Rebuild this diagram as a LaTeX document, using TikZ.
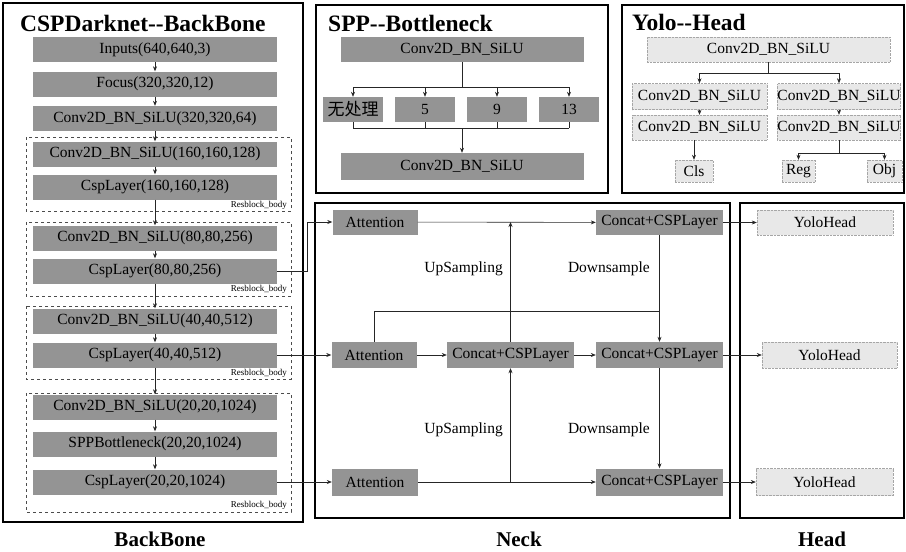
\documentclass[tikz,border=0pt]{standalone}
\usepackage{fontspec}
\setmainfont{Liberation Serif}
\newfontfamily\cjk{Noto Sans CJK SC}
\usetikzlibrary{arrows.meta, positioning}

\begin{document}
\begin{tikzpicture}[
        x=1pt, y=-1pt,
        dnode/.style={rectangle, fill=black!42, inner sep=0pt,
                      minimum height=25pt, font=\fontsize{15.5}{17}\selectfont},
        lnode/.style={rectangle, fill=black!9, draw=black!35, densely dotted,
                      inner sep=0pt, minimum height=25pt,
                      font=\fontsize{15.5}{17}\selectfont},
        panel/.style={draw=black, line width=2.4pt},
        resblock/.style={draw=black!70, dashed, line width=0.7pt},
        ttl/.style={font=\fontsize{23.5}{26}\selectfont\bfseries, inner sep=0pt},
        part/.style={font=\fontsize{21}{24}\selectfont\bfseries, inner sep=0pt},
        lbl/.style={font=\fontsize{15.5}{17}\selectfont, inner sep=0pt},
        rblabel/.style={font=\fontsize{9}{10}\selectfont, inner sep=0pt},
        conn/.style={line width=0.6pt, draw=black!85},
        >={Stealth[length=5pt, width=4pt]}
    ]
        \useasboundingbox (0,0) rectangle (906,552);

        % panels
        \draw[panel] (3,3) rectangle (303,522);
        \draw[panel] (316,5) rectangle (608,193);
        \draw[panel] (622,5) rectangle (904,193);
        \draw[panel] (315,203) rectangle (730,518);
        \draw[panel] (740,203) rectangle (904,518);

        \node[ttl, anchor=base west] (tbb) at (20,31) {CSPDarknet-{}-BackBone};
        \node[ttl, anchor=base west] (tspp) at (328,31) {SPP-{}-Bottleneck};
        \node[ttl, anchor=base west] (thd) at (632,30) {Yolo-{}-Head};

        \node[part, anchor=base] (lbb) at (160,546) {BackBone};
        \node[part, anchor=base] (lnk) at (519,546) {Neck};
        \node[part, anchor=base] (lhd) at (822,546) {Head};

        % backbone
        \draw[resblock] (26,137) rectangle (291,211);
        \draw[resblock] (26,222) rectangle (291,296);
        \draw[resblock] (26,306) rectangle (291,379);
        \draw[resblock] (26,393) rectangle (291,512);
        \node[rblabel, anchor=east] (rb1) at (287,205) {Resblock\_body};
        \node[rblabel, anchor=east] (rb2) at (287,289) {Resblock\_body};
        \node[rblabel, anchor=east] (rb3) at (287,373) {Resblock\_body};
        \node[rblabel, anchor=east] (rb4) at (287,505) {Resblock\_body};

        \node[dnode, minimum width=244pt] (b1) at (155,49.5) {Inputs(640,640,3)};
        \node[dnode, minimum width=244pt] (b2) at (155,84) {Focus(320,320,12)};
        \node[dnode, minimum width=244pt] (b3) at (155,118.5) {Conv2D\_BN\_SiLU(320,320,64)};
        \node[dnode, minimum width=244pt] (b4) at (155,154) {Conv2D\_BN\_SiLU(160,160,128)};
        \node[dnode, minimum width=244pt] (b5) at (155,187) {CspLayer(160,160,128)};
        \node[dnode, minimum width=244pt] (b6) at (155,238) {Conv2D\_BN\_SiLU(80,80,256)};
        \node[dnode, minimum width=244pt] (b7) at (155,271) {CspLayer(80,80,256)};
        \node[dnode, minimum width=244pt] (b8) at (155,321) {Conv2D\_BN\_SiLU(40,40,512)};
        \node[dnode, minimum width=244pt] (b9) at (155,355) {CspLayer(40,40,512)};
        \node[dnode, minimum width=244pt] (b10) at (155,407) {Conv2D\_BN\_SiLU(20,20,1024)};
        \node[dnode, minimum width=244pt] (b11) at (155,444) {SPPBottleneck(20,20,1024)};
        \node[dnode, minimum width=244pt] (b12) at (155,482) {CspLayer(20,20,1024)};

        \foreach \a/\b in {b1/b2, b2/b3, b3/b4, b4/b5, b5/b6, b6/b7,
                           b7/b8, b8/b9, b9/b10, b10/b11, b11/b12}
            \draw[->, conn] (\a) -- (\b);

        % spp
        \node[dnode, minimum width=243pt] (s0) at (462,49.5) {Conv2D\_BN\_SiLU};
        \node[dnode, minimum width=60pt, font=\cjk\fontsize{17}{19}\selectfont] (s1) at (353,109.5) {无处理};
        \node[dnode, minimum width=60pt] (s2) at (425,109.5) {5};
        \node[dnode, minimum width=60pt] (s3) at (497,109.5) {9};
        \node[dnode, minimum width=60pt] (s4) at (569,109.5) {13};
        \node[dnode, minimum width=243pt, minimum height=27pt] (s5) at (462,166.5) {Conv2D\_BN\_SiLU};

        \coordinate (sb) at (462,87);
        \coordinate (sm) at (462,128);
        \draw[conn] (s0) -- (sb);
        \draw[conn] (sb -| s1) -- (sb -| s4);
        \draw[conn] (sm -| s1) -- (sm -| s4);
        \foreach \i in {1,...,4} {
            \draw[->, conn] (sb -| s\i) -- (s\i);
            \draw[conn] (s\i) -- (sm -| s\i);
        }
        \draw[->, conn] (sm) -- (s5);

        % yolo head
        \node[lnode, minimum width=243pt] (y0) at (768.5,49.5) {Conv2D\_BN\_SiLU};
        \node[lnode, minimum width=135pt, minimum height=26pt] (y1) at (699.5,96.5) {Conv2D\_BN\_SiLU};
        \node[lnode, minimum width=123pt, minimum height=26pt] (y2) at (839,96.5) {Conv2D\_BN\_SiLU};
        \node[lnode, minimum width=135pt] (y3) at (699.5,127.5) {Conv2D\_BN\_SiLU};
        \node[lnode, minimum width=123pt] (y4) at (839,127.5) {Conv2D\_BN\_SiLU};
        \node[lnode, minimum width=38pt, minimum height=22pt] (cls) at (694,171) {Cls};
        \node[lnode, minimum width=33pt, minimum height=22pt] (reg) at (798.5,171) {Reg};
        \node[lnode, minimum width=35pt, minimum height=22pt] (obj) at (884.5,171) {Obj};

        \coordinate (yb) at (768.5,73);
        \coordinate (yr) at (839,153);
        \draw[conn] (y0) -- (yb);
        \draw[conn] (yb -| y1) -- (yb -| y2);
        \draw[->, conn] (yb -| y1) -- (y1);
        \draw[->, conn] (yb -| y2) -- (y2);
        \draw[->, conn] (y1) -- (y3);
        \draw[->, conn] (y2) -- (y4);
        \draw[->, conn] (y3.south -| cls) -- (cls);
        \draw[conn] (y4) -- (yr);
        \draw[conn] (yr -| reg) -- (yr -| obj);
        \draw[->, conn] (yr -| reg) -- (reg);
        \draw[->, conn] (yr -| obj) -- (obj);

        % neck
        \node[dnode, minimum width=85pt] (a1) at (375,222) {Attention};
        \node[dnode, minimum width=85pt, minimum height=26pt] (a2) at (374,355) {Attention};
        \node[dnode, minimum width=86pt, minimum height=27pt] (a3) at (375,482) {Attention};
        \node[dnode, minimum width=127pt, minimum height=26pt] (c0) at (510.5,355) {Concat+CSPLayer};
        \node[dnode, minimum width=127pt] (c1) at (659.5,222.5) {Concat+CSPLayer};
        \node[dnode, minimum width=127pt, minimum height=26pt] (c2) at (659.5,355) {Concat+CSPLayer};
        \node[dnode, minimum width=127pt, minimum height=27pt] (c3) at (659.5,482) {Concat+CSPLayer};

        \node[lnode, minimum width=136pt] (h1) at (825,222.5) {YoloHead};
        \node[lnode, minimum width=135pt, minimum height=26pt] (h2) at (829.5,355) {YoloHead};
        \node[lnode, minimum width=137pt, minimum height=27pt] (h3) at (824.5,482) {YoloHead};

        \node[lbl, anchor=east] (up1) at (503,269) {UpSampling};
        \node[lbl, anchor=east] (up2) at (503,430) {UpSampling};
        \node[lbl, anchor=east] (dn1) at (650,269) {Downsample};
        \node[lbl, anchor=east] (dn2) at (650,430) {Downsample};

        \draw[->, conn] (b7.east) -- ++(30,0) |- (a1.west);
        \draw[->, conn] (b9) -- (a2);
        \draw[->, conn] (b12) -- (a3);

        \draw[->, conn] (a1) -- (c1);
        \draw[->, conn] (c0) -- (c0 |- a1);
        \coordinate (dj) at (659.5,311);
        \draw[conn] (a2.north) |- (dj);
        \draw[->, conn] (c1) -- (c2);
        \draw[->, conn] (a2) -- (c0);
        \draw[->, conn] (c0) -- (c2);
        \draw[->, conn] (a3) -- (c3);
        \draw[->, conn] (c0 |- a3) -- (c0);
        \draw[->, conn] (c2) -- (c3);

        \draw[->, conn] (c1) -- (h1);
        \draw[->, conn] (c2) -- (h2);
        \draw[->, conn] (c3) -- (h3);
    \end{tikzpicture}
\end{document}
